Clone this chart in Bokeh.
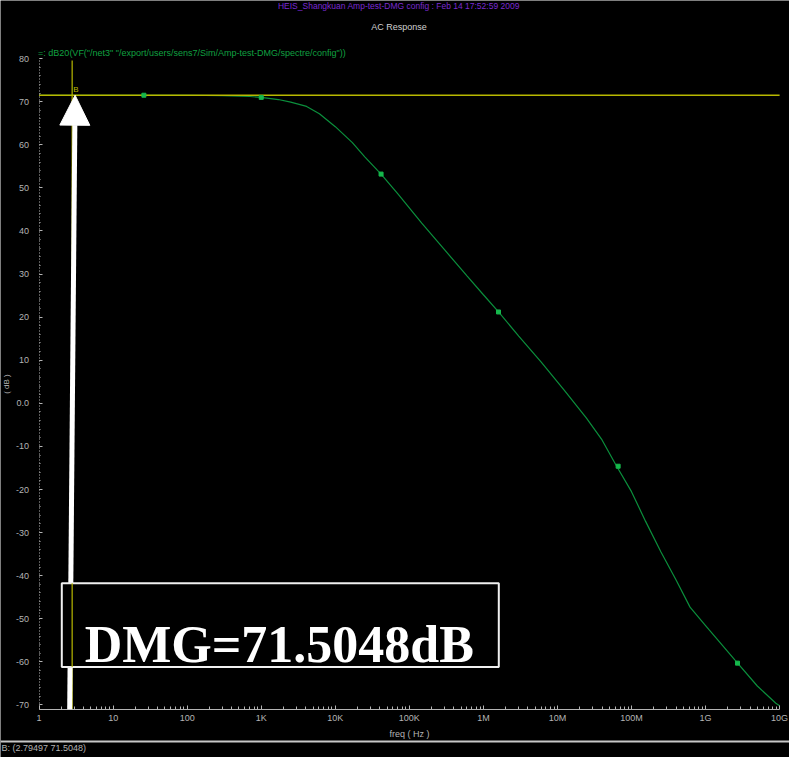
from bokeh.plotting import figure
from bokeh.models import (Range1d, FixedTicker, Span, Arrow, NormalHead,
                          BoxAnnotation)
from bokeh.embed import file_html
from bokeh.resources import INLINE
from bokeh.core.properties import value

# ---------------- data ----------------
freq_hz = [1, 3, 10, 30, 100, 300, 700, 1e3, 1.7e3, 2.5e3, 4.1e3, 6.1e3,
           1e4, 1.7e4, 2.5e4, 4.15e4, 7e4, 1.47e5, 3e5, 6e5, 1e6, 1.6e6,
           3e6, 6e6, 1.24e7, 2.45e7, 4e7, 6.3e7, 1e8, 1.55e8, 2.5e8, 4e8,
           6.17e8, 1e9, 1.12e9, 2.5e9, 5e9, 8.9e9, 1e10]
gain_db = [71.5, 71.5, 71.5, 71.5, 71.5, 71.4, 71.2, 71.0, 70.5, 69.9, 68.9,
           67.2, 64.2, 60.5, 57.2, 53.2, 48.6, 41.8, 35.6, 29.6, 25.2, 21.2,
           15.6, 9.6, 3.0, -3.4, -8.5, -14.6, -20.5, -27.4, -34.5, -41.0,
           -47.3, -51.6, -52.6, -59.6, -65.6, -69.6, -70.2]

trace_marker_freq = [26, 1e3, 4.15e4, 1.6e6, 6.6e7, 2.7e9]
trace_marker_db = [71.5, 71.0, 53.2, 21.2, -14.6, -60.3]

dmg_freq = 2.79497
dmg_db = 71.5048

x_ticks = [1, 10, 100, 1e3, 1e4, 1e5, 1e6, 1e7, 1e8, 1e9, 1e10]
x_tick_labels = ["1", "10", "100", "1K", "10K", "100K", "1M", "10M",
                 "100M", "1G", "10G"]
y_ticks = [80, 70, 60, 50, 40, 30, 20, 10, 0, -10, -20, -30, -40, -50, -60, -70]
y_tick_labels = ["80", "70", "60", "50", "40", "30", "20", "10", "0.0",
                 "-10", "-20", "-30", "-40", "-50", "-60", "-70"]
y_axis_min, y_axis_max = -71, 80

title_text = "HEIS_Shangkuan Amp-test-DMG config : Feb 14 17:52:59 2009"
subtitle_text = "AC Response"
trace_text = '=: dB20(VF("/net3" "/export/users/sens7/Sim/Amp-test-DMG/spectre/config"))'
status_text = "B: (2.79497 71.5048)"
callout_text = "DMG=71.5048dB"

# ---------------- layout (pixels) ----------------
W, H = 789, 757
PX_DEC = 74.05         # pixels per decade
AX_LEFT = 38.6         # axis x=1 from canvas left
PX_DB = 4.309          # pixels per dB
AX_TOP = 58.1          # y=80 from canvas top

x_lo = 10 ** (-AX_LEFT / PX_DEC)
x_hi = 10 ** ((W - AX_LEFT) / PX_DEC)
y_hi = y_axis_max + AX_TOP / PX_DB
y_lo = y_hi - H / PX_DB


def xs(px):   # canvas px -> x data
    return 10 ** ((px - AX_LEFT) / PX_DEC)


def ys(py):   # canvas px from top -> y data
    return y_hi - py / PX_DB


# ---------------- styles ----------------
BG = "black"
GRAY = "#b4b4b4"
GREEN = "#0b8f3c"
GREEN_M = "#16b84c"
YELLOW = "#b8b800"
PURPLE = "#7a2ad0"
FONT = "Liberation Sans"

p = figure(width=W, height=H, x_axis_type="log",
           x_range=Range1d(x_lo, x_hi), y_range=Range1d(y_lo, y_hi),
           output_backend="svg", toolbar_location=None, min_border=0,
           background_fill_color=BG, border_fill_color=BG,
           outline_line_color=None)
p.grid.visible = False

# x axis
minor_x = [d * k for d in x_ticks[:-1] for k in range(2, 10)]
xa = p.xaxis[0]
xa.fixed_location = y_axis_min
xa.bounds = (x_ticks[0], x_ticks[-1])
xa.ticker = FixedTicker(ticks=x_ticks, minor_ticks=minor_x)
xa.major_label_overrides = {t: l for t, l in zip(x_ticks, x_tick_labels)}
xa.axis_line_color = GRAY
xa.major_tick_line_color = GRAY
xa.minor_tick_line_color = GRAY
xa.major_tick_in = 4
xa.major_tick_out = 0
xa.minor_tick_in = 3
xa.minor_tick_out = 0
xa.major_label_text_color = GRAY
xa.major_label_text_font = FONT
xa.major_label_text_font_size = "9px"
xa.major_label_standoff = 4
xa.axis_label = "freq ( Hz )"
xa.axis_label_text_color = GRAY
xa.axis_label_text_font = FONT
xa.axis_label_text_font_style = "normal"
xa.axis_label_text_font_size = "9px"
xa.axis_label_standoff = 2

# y axis
minor_y = [v for v in range(-70, 81, 2)]
ya = p.yaxis[0]
ya.fixed_location = x_ticks[0]
ya.bounds = (y_axis_min, y_axis_max)
ya.ticker = FixedTicker(ticks=y_ticks, minor_ticks=minor_y)
ya.major_label_overrides = {t: l for t, l in zip(y_ticks, y_tick_labels)}
ya.axis_line_color = GRAY
ya.axis_line_dash = "1 2"
ya.major_tick_line_color = GRAY
ya.minor_tick_line_color = GRAY
ya.major_tick_in = 3
ya.major_tick_out = 0
ya.minor_tick_in = 1
ya.minor_tick_out = 0
ya.major_label_text_color = GRAY
ya.major_label_text_font = FONT
ya.major_label_text_font_size = "9px"
ya.major_label_standoff = 10
ya.axis_label = "( dB )"
ya.axis_label_text_color = GRAY
ya.axis_label_text_font = FONT
ya.axis_label_text_font_style = "normal"
ya.axis_label_text_font_size = "8px"
ya.axis_label_standoff = 2

# trace
p.line(freq_hz, gain_db, line_color=GREEN, line_width=1.2)

# marker cross-hair (yellow)
p.segment(x0=[x_ticks[0]], y0=[dmg_db], x1=[x_ticks[-1]], y1=[dmg_db],
          line_color=YELLOW, line_width=1.5)
p.segment(x0=[dmg_freq], y0=[y_axis_min], x1=[dmg_freq], y1=[ys(AX_TOP + 2)],
          line_color=YELLOW, line_width=1.2)
p.text(x=[dmg_freq], y=[dmg_db], text=["B"], text_color=YELLOW,
       text_font=value(FONT), text_font_size="8px", x_offset=1, y_offset=-1,
       text_baseline="bottom", text_align="left")

p.scatter(trace_marker_freq, trace_marker_db, marker="square", size=4,
          fill_color=GREEN_M, line_color=GREEN_M, level="overlay")

# white arrow to the marker
p.add_layout(Arrow(end=NormalHead(size=30, fill_color="white", line_color="white"),
                   x_start=xs(69.2), y_start=y_axis_min, x_end=xs(74.6), y_end=dmg_db,
                   line_color="white", line_width=5))

# call-out box
box_left, box_right = xs(61.3), xs(498.3)
box_top, box_bottom = ys(582.8), ys(666.4)
p.add_layout(BoxAnnotation(left=box_left, right=box_right, bottom=box_bottom, top=box_top,
                           fill_color="black", fill_alpha=1.0,
                           line_color="#f0f0f0", line_alpha=1.0, line_width=2))
p.segment(x0=[dmg_freq], y0=[box_bottom], x1=[dmg_freq], y1=[box_top],
          line_color=YELLOW, line_width=1.2, level="overlay")
p.text(x=[xs(278.8)], y=[ys(643.8)], text=[callout_text], text_align="center",
       text_baseline="alphabetic", text_color="white",
       text_font=value("Liberation Serif"), text_font_style="bold",
       text_font_size="52px", level="overlay")

# header texts
p.text(x=[xs(398.4)], y=[ys(5)], text=[title_text], text_align="center",
       text_baseline="middle", text_color=PURPLE, text_font=value(FONT),
       text_font_size="8.5px")
p.text(x=[xs(398.4)], y=[ys(26.6)], text=[subtitle_text], text_align="center",
       text_baseline="middle", text_color="#d0d0d0", text_font=value(FONT),
       text_font_size="9px")
p.text(x=[xs(37.6)], y=[ys(52.2)], text=[trace_text], text_align="left",
       text_baseline="middle", text_color="#10a040", text_font=value(FONT),
       text_font_size="9px")

# status bar
p.add_layout(Span(location=ys(741), dimension="width", line_color="#c8c8c8",
                  line_width=2))
p.text(x=[x_lo], y=[ys(747.5)], text=[status_text], text_color=GRAY,
       text_font=value(FONT), text_font_size="9px", text_baseline="middle",
       text_align="left", x_offset=1)

open("out.html", "w").write(file_html(p, INLINE))
